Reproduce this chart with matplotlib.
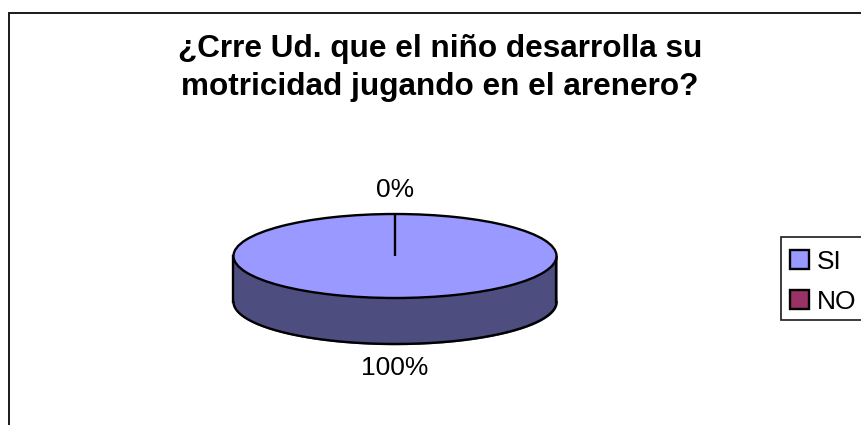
import numpy as np
import matplotlib
matplotlib.use('Agg')
import matplotlib.pyplot as plt
from matplotlib.patches import Patch, Rectangle

W, H = 862, 425

title = '¿Crre Ud. que el niño desarrolla su\nmotricidad jugando en el arenero?'
categories = ['SI', 'NO']
values = [100, 0]
colors = ['#9999FF', '#993366']
side_color = '#4D4D80'

plt.rcParams['font.family'] = ['Liberation Sans', 'DejaVu Sans']

fig = plt.figure(figsize=(W / 100, H / 100), dpi=100, facecolor='white')


def px_rect(x0, y0, x1, y1, **kw):
    # rectangle given in image pixels, y pointing down
    return Rectangle((x0 / W, 1 - y1 / H), (x1 - x0) / W, (y1 - y0) / H,
                     transform=fig.transFigure, **kw)


# outer chart frame, runs off the right and bottom edges
fig.add_artist(px_rect(9, 12.5, W + 20, H + 20, fill=False, edgecolor='#1a1a1a', linewidth=1.4))

fig.text(440 / W, 1 - 68 / H, title, ha='center', va='center', fontsize=22.7,
         fontweight='bold', linespacing=1.33)

# pie axes covers the top ellipse, so the unit circle becomes the ellipse
left, right, top, bottom = 233.5, 556.5, 214, 298
ax = fig.add_axes([left / W, 1 - bottom / H, (right - left) / W, (bottom - top) / H])
wedges, _ = ax.pie(values, colors=colors, startangle=90, counterclock=False, radius=1,
                   wedgeprops={'edgecolor': 'black', 'linewidth': 1.7, 'zorder': 3})
ax.set_aspect('auto')
ax.set_xlim(-1, 1)
ax.set_ylim(-1, 1)

# side wall of the disc
depth = 46 / ((bottom - top) / 2)
t = np.linspace(np.pi, 2 * np.pi, 200)
ax.fill_between(np.cos(t), np.sin(t), np.sin(t) - depth, color=side_color, zorder=1, clip_on=False)
ax.plot(np.cos(t), np.sin(t) - depth, color='black', lw=1.7, zorder=2, clip_on=False)
for x in (-1, 1):
    ax.plot([x, x], [0, -depth], color='black', lw=1.7, zorder=2, clip_on=False)

# data labels
ax.text(0, 1.56, f'{values[1]}%', ha='center', va='center', fontsize=19, clip_on=False)
ax.text(0, -2.67, f'{values[0]}%', ha='center', va='center', fontsize=19, clip_on=False)

# legend box also runs off the right edge, so it is drawn apart from the entries
fig.add_artist(px_rect(781.5, 237, W + 20, 320, facecolor='white', edgecolor='#1a1a1a', linewidth=1.2))
handles = [Patch(facecolor=c, edgecolor='black', linewidth=1.7) for c in colors]
leg = fig.legend(handles, categories, loc='upper left', bbox_to_anchor=(790 / W, 1 - 250 / H),
                 fontsize=19, frameon=False, borderaxespad=0, borderpad=0, handlelength=0.72,
                 handleheight=0.72, handletextpad=0.3, labelspacing=0.6)

fig.savefig('out.png', dpi=100)
